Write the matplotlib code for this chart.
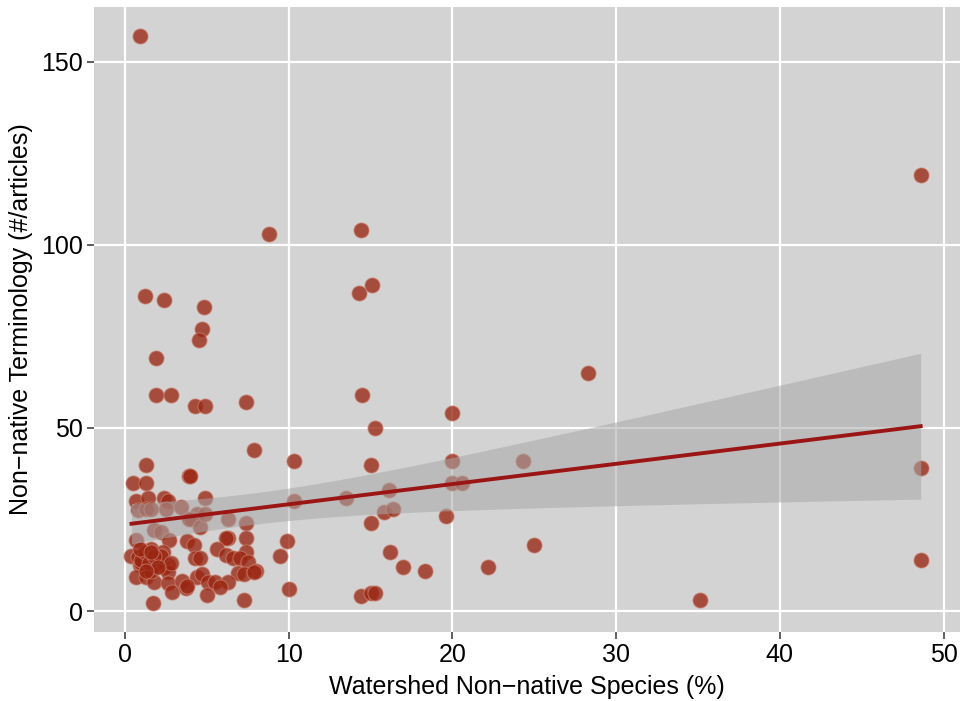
import numpy as np
import matplotlib
matplotlib.use("Agg")
import matplotlib.pyplot as plt

plt.rcParams['font.family'] = ['Liberation Sans', 'DejaVu Sans']

# Watershed non-native species (%) and non-native terminology (#/articles)
species_pct = [
    0.9, 48.6, 8.8, 14.4, 14.3, 15.1, 1.2, 2.4, 4.8, 4.7, 4.5, 1.9, 28.3, 14.5,
    1.9, 2.8, 7.4, 4.3, 4.9, 20.0, 15.3, 7.9, 10.3, 1.3, 15.0, 20.0, 24.3, 48.6,
    3.9, 4.0, 0.5, 1.3, 20.0, 20.6, 16.1, 13.5, 0.7, 1.4, 2.4, 2.6, 4.9, 10.3,
    15.8, 16.4, 19.6, 7.4, 15.0, 6.3, 7.4, 9.9, 16.2, 17.0, 18.3, 22.2, 25.0,
    48.6, 35.1, 14.4, 15.0, 15.3, 10.0, 9.5, 7.3,
    0.8, 1.3, 1.6, 2.5, 3.4, 4.4, 4.1, 3.9, 4.6, 4.9, 6.3, 1.8, 2.2, 2.7, 0.7,
    1.5, 3.8, 4.2, 6.2, 7.4, 5.6, 0.4, 0.8, 1.1, 1.5, 1.9, 2.6, 4.3, 4.6, 6.2,
    6.6, 7.0, 7.5, 8.0, 0.9, 1.4, 2.0, 2.4, 2.6, 6.9, 7.3, 7.9, 0.7, 1.3, 1.8,
    2.6, 2.9, 3.5, 3.7, 4.4, 4.7, 5.1, 5.5, 6.3, 5.8, 5.0, 1.7, 3.8, 1.6, 2.0,
    2.3, 1.0, 1.6, 2.2, 2.8,
    1.0, 1.2, 1.5, 1.8, 2.0, 1.3, 0.9, 1.6,
]
terminology = [
    157, 119, 103, 104, 87, 89, 86, 85, 83, 77, 74, 69, 65, 59,
    59, 59, 57, 56, 56, 54, 50, 44, 41, 40, 40, 41, 41, 39,
    37, 37, 35, 35, 35, 35, 33, 31, 30, 31, 31, 30, 31, 30,
    27, 28, 26, 24, 24, 20, 20, 19, 16, 12, 11, 12, 18,
    14, 3, 4, 5, 5, 6, 15, 3,
    27.6, 28, 28, 28, 28.4, 26.5, 25, 25, 23, 26.5, 25, 22, 21.6, 19.4, 19.4,
    16, 19, 18, 20, 16, 17, 15, 14.7, 14.5, 14.7, 14.5, 12.5, 14.5, 14.5, 15.3,
    14.5, 14.5, 13.4, 11, 12.5, 12, 12.5, 12, 10.7, 10.4, 10, 10.7, 9.3, 9.3,
    8, 7.6, 5.2, 8.2, 6.3, 9.3, 10, 8, 8, 8, 6.6, 4.4, 2.2, 6.8, 17, 13,
    16, 13, 11, 15, 13,
    14, 16, 13, 15, 12, 11, 17, 16,
]

x = np.array(species_pct, dtype=float)
y = np.array(terminology, dtype=float)

# linear fit with 95% confidence band (like geom_smooth(method="lm"))
n = len(x)
b, a = np.polyfit(x, y, 1)
resid = y - (a + b * x)
s = np.sqrt(np.sum(resid ** 2) / (n - 2))
xs = np.linspace(x.min(), x.max(), 200)
ys = a + b * xs
se = s * np.sqrt(1.0 / n + (xs - x.mean()) ** 2 / np.sum((x - x.mean()) ** 2))
tval = 1.978
lo, hi = ys - tval * se, ys + tval * se

fig = plt.figure(figsize=(9.65, 7.01), dpi=100)
ax = fig.add_axes([0.0974, 0.0984, 0.8974, 0.8916])
ax.set_facecolor('#D3D3D3')
for sp in ax.spines.values():
    sp.set_visible(False)

ax.set_axisbelow(True)
ax.grid(True, color='white', linewidth=1.6)

ax.scatter(x, y, s=118, color='#9A2612', alpha=0.78, edgecolors='#C8806E',
           linewidths=0.7, zorder=3)
ax.fill_between(xs, lo, hi, color='#A8A8A8', alpha=0.55, linewidth=0, zorder=4)
ax.plot(xs, ys, color='#9B1515', linewidth=2.8, zorder=5)

ax.set_xlim(-1.89, 51.0)
ax.set_ylim(-5.74, 165.0)
ax.set_xticks([0, 10, 20, 30, 40, 50])
ax.set_yticks([0, 50, 100, 150])
ax.tick_params(axis='both', direction='out', length=5, width=1.1, color='#333333',
               labelsize=18, labelcolor='black', pad=3)

ax.set_xlabel('Watershed Non\u2212native Species (%)', fontsize=18, labelpad=6)
ax.set_ylabel('Non\u2212native Terminology (#/articles)', fontsize=18, labelpad=6)

fig.savefig('out.png', dpi=100)
